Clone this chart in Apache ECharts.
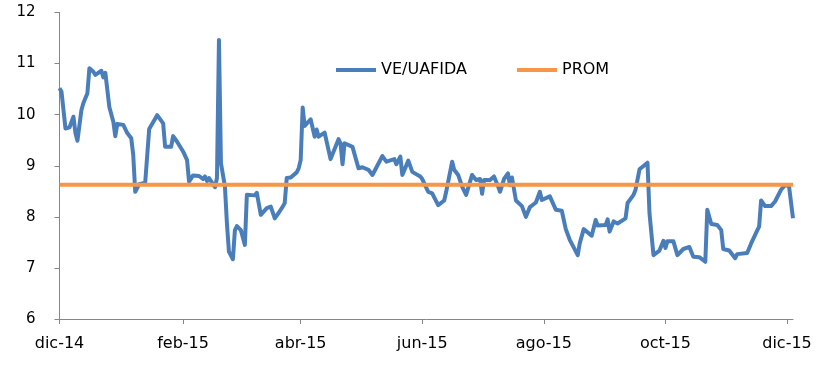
<!DOCTYPE html>
<html>
<head>
<meta charset="utf-8">
<script src="https://cdn.jsdelivr.net/npm/echarts@6/dist/echarts.min.js"></script>
<style>
  html, body { margin: 0; padding: 0; background: #fff; }
  #chart { width: 829px; height: 378px; }
</style>
</head>
<body>
<div id="chart"></div>
<script>
// fechas (dia) y valores de VE/UAFIDA
var fechas = [
  '2014-12-01','2014-12-02','2014-12-04','2014-12-06','2014-12-08','2014-12-09','2014-12-10','2014-12-12','2014-12-13','2014-12-15',
  '2014-12-16','2014-12-18','2014-12-19','2014-12-22','2014-12-23','2014-12-24','2014-12-25','2014-12-26','2014-12-28','2014-12-29',
  '2014-12-30','2015-01-02','2015-01-04','2015-01-06','2015-01-07','2015-01-08','2015-01-10','2015-01-13','2015-01-15','2015-01-19',
  '2015-01-22','2015-01-23','2015-01-26','2015-01-27','2015-01-29','2015-01-30','2015-02-01','2015-02-03','2015-02-04','2015-02-06',
  '2015-02-09','2015-02-10','2015-02-11','2015-02-12','2015-02-13','2015-02-14','2015-02-16','2015-02-17','2015-02-18','2015-02-19',
  '2015-02-20','2015-02-22','2015-02-23','2015-02-24','2015-02-26','2015-02-27','2015-02-28','2015-03-02','2015-03-04','2015-03-05',
  '2015-03-06','2015-03-09','2015-03-10','2015-03-12','2015-03-15','2015-03-17','2015-03-19','2015-03-21','2015-03-23','2015-03-24',
  '2015-03-25','2015-03-27','2015-03-30','2015-03-31','2015-04-01','2015-04-02','2015-04-03','2015-04-06','2015-04-08','2015-04-09',
  '2015-04-10','2015-04-13','2015-04-16','2015-04-20','2015-04-21','2015-04-22','2015-04-23','2015-04-27','2015-04-30','2015-05-02',
  '2015-05-05','2015-05-07','2015-05-12','2015-05-14','2015-05-18','2015-05-19','2015-05-21','2015-05-22','2015-05-25','2015-05-27',
  '2015-05-31','2015-06-01','2015-06-02','2015-06-04','2015-06-06','2015-06-07','2015-06-09','2015-06-12','2015-06-13','2015-06-16',
  '2015-06-17','2015-06-19','2015-06-21','2015-06-23','2015-06-26','2015-06-28','2015-06-30','2015-07-01','2015-07-02','2015-07-05',
  '2015-07-07','2015-07-09','2015-07-10','2015-07-12','2015-07-14','2015-07-15','2015-07-16','2015-07-18','2015-07-21','2015-07-23',
  '2015-07-25','2015-07-28','2015-07-29','2015-07-30','2015-07-31','2015-08-04','2015-08-07','2015-08-10','2015-08-12','2015-08-14',
  '2015-08-18','2015-08-19','2015-08-20','2015-08-21','2015-08-25','2015-08-27','2015-08-28','2015-09-01','2015-09-02','2015-09-03',
  '2015-09-05','2015-09-07','2015-09-11','2015-09-12','2015-09-15','2015-09-16','2015-09-18','2015-09-22','2015-09-23','2015-09-25',
  '2015-09-28','2015-09-30','2015-10-01','2015-10-02','2015-10-05','2015-10-07','2015-10-10','2015-10-13','2015-10-15','2015-10-18',
  '2015-10-21','2015-10-22','2015-10-24','2015-10-27','2015-10-29','2015-10-30','2015-11-02','2015-11-05','2015-11-06','2015-11-11',
  '2015-11-13','2015-11-16','2015-11-17','2015-11-18','2015-11-20','2015-11-23','2015-11-25','2015-11-28','2015-11-30','2015-12-02',
  '2015-12-04'
];
var veUafida = [
  10.52,10.45,9.73,9.75,9.96,9.64,9.49,10.09,10.23,10.42,
  10.91,10.84,10.78,10.86,10.73,10.82,10.81,10.15,9.86,9.58,
  9.82,9.80,9.64,9.54,9.21,8.49,8.64,8.67,9.72,9.99,
  9.83,9.37,9.37,9.58,9.47,9.44,9.28,9.11,8.69,8.81,
  8.80,8.77,8.74,8.79,8.70,8.76,8.64,8.58,8.76,11.46,
  9.05,8.59,7.87,7.32,7.17,7.74,7.82,7.74,7.45,8.43,
  8.41,8.42,8.47,8.04,8.17,8.20,7.97,8.08,8.20,8.27,
  8.76,8.77,8.87,8.95,9.11,10.14,9.78,9.91,9.57,9.71,
  9.57,9.65,9.13,9.52,9.44,9.03,9.44,9.37,8.95,8.97,
  8.92,8.82,9.19,9.08,9.13,9.03,9.18,8.82,9.10,8.88,
  8.79,8.74,8.77,8.49,8.46,8.38,8.23,8.32,8.49,9.08,
  8.92,8.82,8.59,8.43,8.82,8.72,8.74,8.45,8.72,8.72,
  8.79,8.60,8.49,8.74,8.85,8.62,8.77,8.32,8.21,8.00,
  8.19,8.28,8.26,8.49,8.33,8.40,8.14,8.12,7.76,7.55,
  7.25,7.48,7.46,7.76,7.63,7.94,7.83,7.84,7.95,7.71,
  7.91,7.87,7.97,8.27,8.43,8.53,8.93,9.06,8.07,7.25,
  7.34,7.53,7.39,7.52,7.52,7.25,7.37,7.41,7.22,7.21,
  7.12,8.14,7.86,7.84,7.74,7.37,7.34,7.19,7.27,7.29,
  7.48,7.73,7.81,8.32,8.21,8.21,8.30,8.53,8.62,8.60,
  7.97
];
var promedio = 8.63;

// marcas del eje x
var tickFechas = ['2014-12-01','2015-02-01','2015-04-01','2015-06-01','2015-08-01','2015-10-01','2015-12-01'];
var tickLabels = ['dic-14','feb-15','abr-15','jun-15','ago-15','oct-15','dic-15'];

var toTime = function (f) { return +new Date(f + 'T00:00:00Z'); };
var tickValues = tickFechas.map(toTime);

var myChart = echarts.init(document.getElementById('chart'));
var fuente = 'Verdana, "DejaVu Sans", sans-serif';

var option = {
  animation: false,
  grid: { left: 59.5, right: 36, top: 12.5, bottom: 59 },
  legend: {
    left: 331,
    top: 57,
    itemWidth: 40,
    itemHeight: 4,
    itemGap: 50,
    icon: 'rect',
    textStyle: { fontSize: 16, fontFamily: fuente, color: '#000' },
    data: ['VE/UAFIDA', 'PROM']
  },
  xAxis: {
    type: 'value',
    min: toTime('2014-12-01'),
    max: toTime('2015-12-04'),
    axisLine: { lineStyle: { color: '#868686', width: 1 } },
    axisTick: { show: true, length: 5, lineStyle: { color: '#868686' }, customValues: tickValues },
    splitLine: { show: false },
    axisLabel: {
      customValues: tickValues,
      margin: 17,
      fontSize: 16,
      fontFamily: fuente,
      color: '#000',
      formatter: function (v) {
        var i = tickValues.indexOf(v);
        return i >= 0 ? tickLabels[i] : '';
      }
    }
  },
  yAxis: {
    type: 'value',
    min: 6,
    max: 12,
    interval: 1,
    axisLine: { show: true, lineStyle: { color: '#868686', width: 1 } },
    axisTick: { show: true, length: 5, lineStyle: { color: '#868686' } },
    splitLine: { show: false },
    axisLabel: { margin: 24, fontSize: 15, fontFamily: fuente, color: '#000' }
  },
  series: [
    {
      name: 'VE/UAFIDA',
      type: 'line',
      showSymbol: false,
      color: '#4a7ebb',
      lineStyle: { width: 4, color: '#4a7ebb', join: 'round' },
      data: fechas.map(function (f, i) { return [toTime(f), veUafida[i]]; }),
      z: 2
    },
    {
      name: 'PROM',
      type: 'line',
      showSymbol: false,
      color: '#f79646',
      lineStyle: { width: 4, color: '#f79646' },
      data: fechas.map(function (f) { return [toTime(f), promedio]; }),
      z: 3
    }
  ]
};
myChart.setOption(option);
</script>
</body>
</html>
